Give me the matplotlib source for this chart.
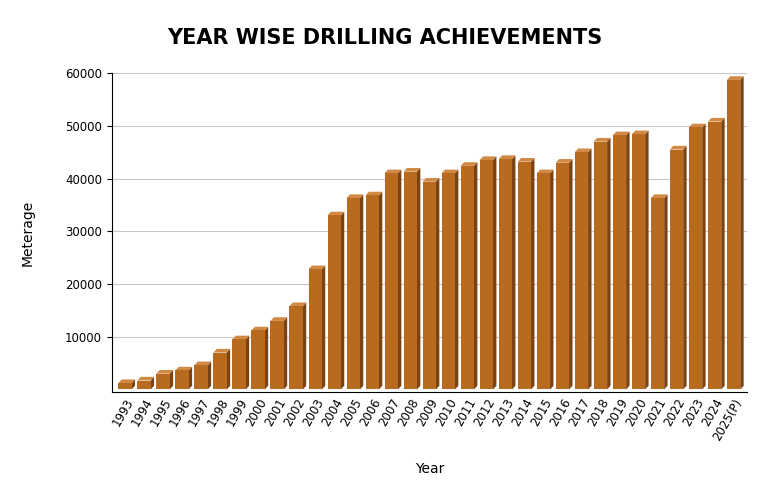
import matplotlib
matplotlib.use("Agg")
import matplotlib.pyplot as plt
from matplotlib.patches import Polygon

years = [str(y) for y in range(1993, 2025)] + ["2025(P)"]
meterage = [1200, 1700, 3000, 3600, 4600, 7000, 9500, 11200, 13000, 15800, 22800,
            33000, 36300, 36800, 41000, 41300, 39400, 41000, 42400, 43500, 43700,
            43200, 41000, 43000, 45000, 47000, 48200, 48400, 36300, 45500, 49700,
            50800, 58700]

fig = plt.figure(figsize=(7.7, 5.04), dpi=100)
ax = fig.add_axes([0.145, 0.222, 0.825, 0.633])
n = len(years)
w = 0.7
dx, dy = 0.18, 700
face = "#B86A1E"
for i, v in enumerate(meterage):
    x0 = i - w / 2
    ax.add_patch(Polygon([(x0 + w, 0), (x0 + w + dx, dy), (x0 + w + dx, v + dy), (x0 + w, v)],
                         closed=True, fc="#7A4311", ec="none", zorder=3))
    ax.add_patch(Polygon([(x0, v), (x0 + dx, v + dy), (x0 + w + dx, v + dy), (x0 + w, v)],
                         closed=True, fc="#D08A45", ec="none", zorder=3))
ax.bar(range(n), meterage, width=w, color=face, zorder=3)
ax.set_xlim(-0.7, n - 0.3)
ax.set_ylim(-500, 60000)
ax.set_yticks([10000, 20000, 30000, 40000, 50000, 60000])
ax.set_yticklabels(["10000", "20000", "30000", "40000", "50000", "60000"], fontsize=8.5)
ax.yaxis.grid(True, color="#c8c8c8", lw=0.8, zorder=0)
ax.set_xticks(range(n))
ax.set_xticklabels(years, rotation=60, ha="right", rotation_mode="anchor", fontsize=8.5)
ax.tick_params(axis="x", length=0, pad=3)
for s in ["top", "right"]:
    ax.spines[s].set_visible(False)
ax.set_xlabel("Year", fontsize=10, labelpad=14)
ax.set_ylabel("Meterage", fontsize=10, labelpad=22)
fig.suptitle("YEAR WISE DRILLING ACHIEVEMENTS", fontsize=15, fontweight="bold", y=0.945)
fig.savefig("out.png", dpi=100)
